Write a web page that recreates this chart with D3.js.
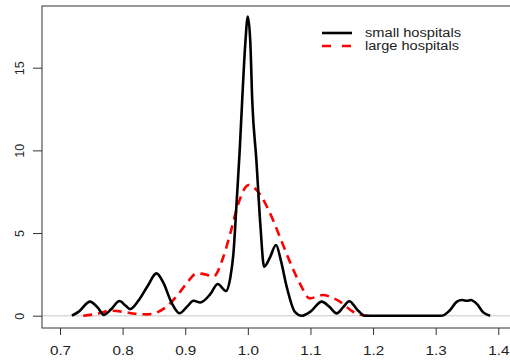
<!DOCTYPE html>
<html>
<head>
<meta charset="utf-8">
<script src="https://cdn.jsdelivr.net/npm/d3@7"></script>
<style>
  body { margin: 0; background: #fff; }
  svg text { font-family: "Liberation Sans", Arial, sans-serif; fill: #222; }
</style>
</head>
<body>
<div id="chart"></div>
<script>
// density estimates: [ratio, density]
const smallHospitals = [
  [0.719, 0], [0.73, 0.25], [0.748, 0.85], [0.76, 0.5], [0.770, 0.05], [0.782, 0.4],
  [0.795, 0.89], [0.805, 0.6], [0.812, 0.4], [0.825, 0.9], [0.84, 1.8], [0.854, 2.56],
  [0.865, 2.0], [0.878, 0.8], [0.891, 0.15], [0.903, 0.55], [0.913, 0.9], [0.924, 0.8],
  [0.94, 1.3], [0.952, 1.92], [0.965, 1.49], [0.972, 2.3], [0.977, 3.77], [0.982, 6.8],
  [0.987, 10], [0.991, 13.05], [0.996, 16.5], [1.0, 18.1], [1.004, 16.5], [1.007, 13.05],
  [1.0136, 9.42], [1.02, 5.5], [1.026, 2.96], [1.035, 3.5], [1.045, 4.28], [1.053, 3.3],
  [1.062, 1.76], [1.075, 0.24], [1.086, 0], [1.1, 0.25], [1.118, 0.85], [1.13, 0.55],
  [1.142, 0.14], [1.152, 0.5], [1.162, 0.87], [1.175, 0.35], [1.187, 0], [1.31, 0],
  [1.322, 0.3], [1.334, 0.85], [1.342, 0.95], [1.35, 0.9], [1.356, 0.95], [1.366, 0.7],
  [1.376, 0.2], [1.387, 0]
]
const largeHospitals = [
  [0.737, 0], [0.76, 0.12], [0.78, 0.3], [0.8, 0.24], [0.82, 0.12], [0.84, 0.08],
  [0.855, 0.2], [0.87, 0.54], [0.89, 1.35], [0.905, 2.1], [0.918, 2.56], [0.932, 2.5],
  [0.945, 2.36], [0.961, 3.57], [0.972, 4.98], [0.985, 6.8], [1.001, 7.9], [1.014, 7.6],
  [1.033, 6.4], [1.051, 4.78], [1.067, 3.27], [1.083, 1.96], [1.099, 1.05], [1.11, 1.15],
  [1.12, 1.25], [1.131, 1.15], [1.147, 0.85], [1.168, 0.24], [1.189, 0], [1.195, 0]
]
const xTicks = [0.7, 0.8, 0.9, 1.0, 1.1, 1.2, 1.3, 1.4]
const yTicks = [0, 5, 10, 15]
const seriesNames = ["small hospitals", "large hospitals"]

const width = 510, height = 364
const box = { left: 42, top: 6, bottom: 328 }

const svg = d3.select("#chart").append("svg")
  .attr("width", width)
  .attr("height", height)

const x = d3.scaleLinear().domain([0.7, 1.4]).range([60, 498.3])
const y = d3.scaleLinear().domain([0, 15]).range([315.7, 67.7])

// reference line at zero
svg.append("line")
  .attr("x1", box.left).attr("x2", width)
  .attr("y1", y(0)).attr("y2", y(0))
  .attr("stroke", "#d9d9d9")
  .attr("stroke-width", 1.5)

// plot box
svg.append("rect")
  .attr("x", box.left).attr("y", box.top)
  .attr("width", width + 10 - box.left).attr("height", box.bottom - box.top)
  .attr("fill", "none")
  .attr("stroke", "#333")
  .attr("stroke-width", 1)

const xAxis = svg.append("g")
  .attr("transform", `translate(0, ${box.bottom})`)
  .call(d3.axisBottom(x).tickValues(xTicks).tickFormat(d3.format(".1f")).tickSize(7).tickPadding(11))
xAxis.select(".domain").remove()
xAxis.selectAll("line").attr("stroke", "#333")
xAxis.selectAll("text")
  .attr("font-size", 12.5)
  .attr("fill", "#222")
  .attr("transform", "scale(1.22, 1)")
  .style("font-family", "Liberation Sans, Arial, sans-serif")

const yAxis = svg.append("g")
  .attr("transform", `translate(${box.left}, 0)`)
  .call(d3.axisLeft(y).tickValues(yTicks).tickSize(9).tickPadding(0).tickFormat(d3.format("d")))
yAxis.select(".domain").remove()
yAxis.selectAll("line").attr("stroke", "#333")
yAxis.selectAll("text")
  .attr("font-size", 12.5)
  .attr("fill", "#222")
  .attr("x", null)
  .attr("text-anchor", "middle")
  .attr("transform", "translate(-22, 0) rotate(-90)")
  .attr("dy", "0.35em")
  .style("font-family", "Liberation Sans, Arial, sans-serif")

const line = d3.line()
  .x(d => x(d[0]))
  .y(d => y(d[1]))
  .curve(d3.curveMonotoneX)

svg.append("path")
  .datum(largeHospitals)
  .attr("d", line)
  .attr("fill", "none")
  .attr("stroke", "#ff0000")
  .attr("stroke-width", 2.6)
  .attr("stroke-dasharray", "9,6")

svg.append("path")
  .datum(smallHospitals)
  .attr("d", line)
  .attr("fill", "none")
  .attr("stroke", "#000")
  .attr("stroke-width", 2.6)
  .attr("stroke-linejoin", "round")

// legend
const legendWidths = [96, 94]
const legend = svg.append("g").attr("transform", "translate(322, 33)")
seriesNames.forEach((name, i) => {
  const g = legend.append("g").attr("transform", `translate(0, ${i * 13})`)
  g.append("line")
    .attr("x1", 0).attr("x2", 30)
    .attr("stroke", i === 0 ? "#000" : "#ff0000")
    .attr("stroke-width", 2.6)
    .attr("stroke-dasharray", i === 0 ? null : "9,11")
  g.append("text")
    .attr("x", 43).attr("dy", "0.35em")
    .attr("font-size", 12)
    .attr("textLength", legendWidths[i])
    .attr("lengthAdjust", "spacingAndGlyphs")
    .text(name)
})
</script>
</body>
</html>
